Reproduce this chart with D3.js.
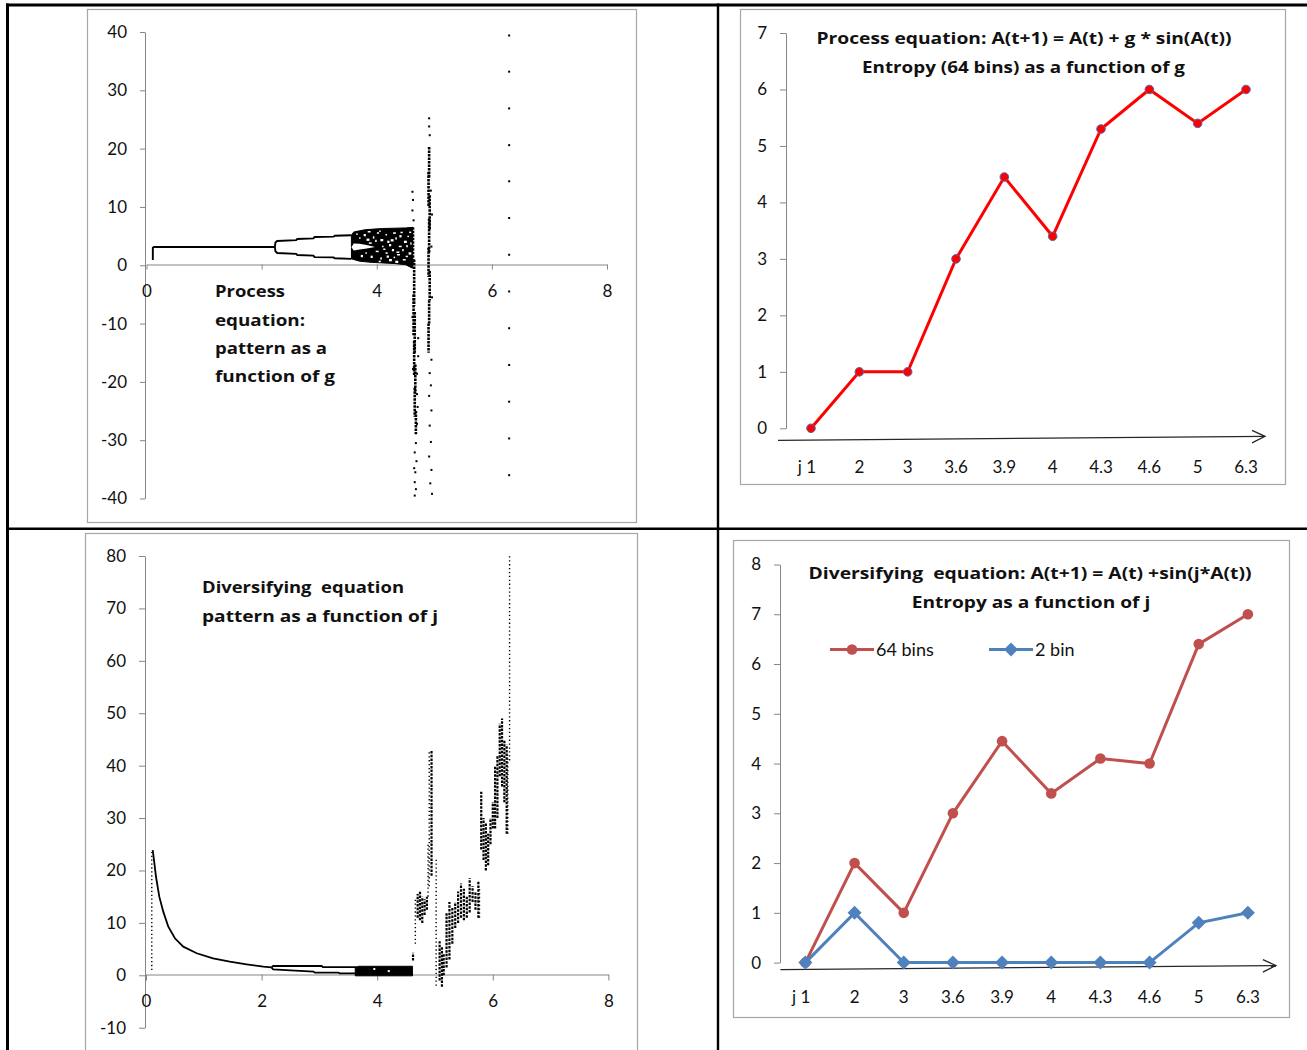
<!DOCTYPE html>
<html><head><meta charset="utf-8">
<script src="https://cdn.jsdelivr.net/npm/d3@7"></script>
<style>
body{margin:0;background:#fff;}
svg{display:block;}
text{font-family:Lato,"Open Sans",sans-serif;}
.bold{font-family:"Open Sans",Lato,sans-serif;font-weight:bold;}
</style></head><body>
<svg id="c" width="1307" height="1050"></svg>
<script>
// ---------- entropy charts (right column) ----------
const paramLabels = ["j 1","2","3","3.6","3.9","4","4.3","4.6","5","6.3"];
const processEntropy64 = [0,1,1,3,4.45,3.4,5.3,6,5.4,6];
const divEntropy64 = [0,2,1,3,4.45,3.4,4.1,4,6.4,7];
const divEntropy2 = [0,1,0,0,0,0,0,0,0.8,1];
const legendNames = ["64 bins","2 bin"];

// ---------- process equation pattern (g, A) ----------
const procTail = [[0.11,0.9],[0.11,3.0],[0.13,3.14],[2.23,3.14]];
const procUpper = [[2.23,3.14],[2.24,3.9],[2.27,4.15],[2.6,4.3],[2.62,4.5],[2.9,4.6],[2.92,4.85],[3.25,4.9],[3.27,5.05],[3.56,5.15]];
const procLower = [[2.23,3.14],[2.24,2.4],[2.27,2.1],[2.6,1.95],[2.62,1.75],[2.9,1.65],[2.92,1.4],[3.25,1.35],[3.27,1.2],[3.56,1.1]];
const procChaos = [[3.56,5.15],[3.6,5.7],[3.7,5.9],[3.8,6.1],[3.95,6.2],[4.1,6.3],[4.3,6.35],[4.5,6.4],[4.62,6.5],
                   [4.62,-0.5],[4.5,0.1],[4.3,0.3],[4.1,0.4],[3.9,0.5],[3.7,0.7],[3.56,1.1]];
const procChaosGap = [[3.56,3.1],[3.6,3.75],[3.7,3.7],[3.8,3.5],[3.9,3.3],[3.97,3.15],[3.9,3.0],[3.8,2.85],[3.7,2.7],[3.6,2.55]];
const procChaosHoles = [[3.71,4.62],[3.79,5.19],[3.88,3.76],[3.95,4.79],[4.02,5.48],[4.08,4.33],[4.17,5.19],[4.23,3.47],[4.30,5.48],[4.34,4.62],
  [4.43,5.58],[4.49,4.04],[4.55,4.9],[4.28,2.62],[4.37,1.76],[4.46,2.62],[4.52,1.47],[4.57,2.05],[3.82,2.05],[3.91,1.47],
  [4.0,2.33],[4.08,1.19],[4.17,2.05],[4.23,0.9],[4.11,3.18],[4.2,4.04],[4.4,3.18],[4.6,3.76],[4.05,0.61],[4.34,0.61],
  [3.66,5.3],[3.74,1.6],[3.86,5.7],[3.99,4.2],[4.13,2.7],[4.26,4.3],[4.31,1.3],[4.41,5.0],[4.47,0.9],[4.53,3.3],
  [4.58,5.6],[3.84,4.4],[4.06,5.8],[4.19,1.5],[4.36,2.2]];
const procDense = [[4.63,6.5,0],[4.65,1,-7],[4.64,-5,-12],[4.66,-8,-15],[4.65,-13,-19],[4.67,-17,-22],[4.66,-21,-26],[4.68,-25,-29],
  [4.91,20.3,15],[4.90,16,10],[4.92,12,6],[4.91,8,2],[4.90,3,-2],[4.92,-1,-6],[4.91,-6,-10],[4.90,-10,-15]];
const procDots = [[4.62,12.6],[4.63,11.2],[4.62,9.4],[4.64,7.7],[4.68,-30.5],[4.66,-32.1],[4.69,-33.6],[4.65,-34.8],[4.67,-35.5],
  [4.66,-37.2],[4.68,-38.4],[4.66,-39.5],[4.70,-22.1],[4.71,-24.3],[4.63,-17.8],[4.70,-18.6],[4.62,-8.9],[4.72,-12.5],
  [4.72,-15.6],[4.70,-27.2],[4.91,25.2],[4.91,23.8],[4.92,22.3],[4.95,-16.2],[4.92,-18.5],[4.94,-20.6],[4.91,-22.4],
  [4.95,-24.9],[4.92,-27.5],[4.94,-30.3],[4.91,-32.8],[4.95,-35.1],[4.93,-37.4],[4.96,-39.2],[4.94,12.8],[4.96,8.7],
  [4.95,3.2],[4.96,-5.5],
  [6.3,39.4],[6.3,33.2],[6.3,26.9],[6.3,20.6],[6.3,14.4],[6.3,8.1],[6.3,1.8],[6.3,-4.5],[6.3,-10.8],[6.3,-17.1],
  [6.3,-23.4],[6.3,-29.7],[6.3,-36.0]];

// ---------- diversifying equation pattern (j, A) ----------
const divCurve = [[0.116,23.9],[0.138,22.0],[0.173,18.8],[0.23,15.0],[0.30,12.1],[0.386,9.27],[0.50,7.06],[0.645,5.46],
  [0.877,4.2],[1.16,3.24],[1.45,2.6],[1.74,2.1],[2.03,1.64],[2.17,1.5]];
const divUpper = [[2.17,1.5],[2.2,1.77],[3.04,1.77],[3.06,1.55],[3.65,1.55]];
const divLower = [[2.17,1.5],[2.2,1.14],[2.5,0.95],[2.9,0.69],[2.92,0.5],[3.33,0.5],[3.35,0.38],[3.65,0.38]];
const divBand = [[3.62,1.45],[3.68,1.72],[4.61,1.72],[4.61,-0.1],[3.62,-0.1]];
const divBandHoles = [[4.2,0.8],[3.95,1.2]];
const divSparse = [[0.1,1,23.5],[4.66,6,14.5],[4.88,15,25],[4.9,17,43],[5.02,-2,22.5],[5.77,11,17],[6.29,41,80],[6.26,27,42]];
const divDense = [[4.62,2.8,4.3],[4.70,11,15.5],[4.74,10.5,16],[4.78,10,15],[4.82,11.5,14.5],[4.86,12.5,15],[4.94,19,43],
  [5.08,-1,6.5],[5.12,-2.2,5.5],[5.15,0,4],[5.2,1.5,12],[5.25,3,14],[5.3,6,13],[5.35,9,14],[5.4,10,16],[5.45,11,17.5],
  [5.5,10.5,16.5],[5.55,11,15],[5.6,12,18.5],[5.65,14,17],[5.7,12.5,16],[5.75,11,18],[5.8,24,35],[5.84,22,30],
  [5.88,20,29],[5.92,21,27],[5.96,25,30],[6.0,28,33],[6.04,28,40],[6.08,30,42],[6.12,38,48],[6.16,36,49],[6.2,33,45],[6.24,27,44]];

const svg = d3.select("#c");
const AXIS = "#868686", FRAME = "#a6a6a6", INK = "#111";

function frame(x0,y0,x1,y1){
  svg.append("rect").attr("x",x0+0.5).attr("y",y0+0.5).attr("width",x1-x0).attr("height",y1-y0)
    .attr("fill","#fff").attr("stroke",FRAME).attr("stroke-width",1.2);
}
function styleAxis(g){
  g.attr("font-family","Lato, 'Open Sans', sans-serif").attr("font-size",17);
  g.select(".domain").attr("stroke",AXIS);
  g.selectAll(".tick line").attr("stroke",AXIS);
  g.selectAll(".tick text").attr("fill",INK);
}
const fmt = d => String(d);
// bold annotation line fitted to a given width
function boldLine(x, y, width, str, anchor){
  svg.append("text").attr("class","bold").attr("x",x).attr("y",y).attr("font-size",16).attr("fill",INK)
    .attr("text-anchor",anchor || "start").attr("textLength",width).attr("lengthAdjust","spacingAndGlyphs")
    .style("white-space","pre").text(str);
}

// ---------- table frame ----------
frame(87,9,636,522);
frame(85,533,637,1070);
frame(740,9,1285,484);
frame(733,540,1289,1017);

// ---------- top-left: process equation pattern ----------
{
  const x = d3.scaleLinear().domain([0,8]).range([146.5,607]);
  const y = d3.scaleLinear().domain([-40,40]).range([498.5,32]);
  svg.append("g").attr("transform","translate(145,0)")
    .call(d3.axisLeft(y).tickValues(d3.range(-40,41,10)).tickFormat(fmt).tickSize(5).tickSizeOuter(0).tickPadding(13))
    .call(styleAxis);
  // the label under the annotation box ("2") is not shown
  svg.append("g").attr("transform",`translate(0,${Math.round(y(0))-0.5})`)
    .call(d3.axisBottom(x).tickValues([0,2,4,6,8]).tickFormat(d => d === 2 ? "" : fmt(d)).tickSize(5).tickSizeOuter(0).tickPadding(15))
    .call(styleAxis);
  const line = d3.line().x(d=>x(d[0])).y(d=>y(d[1]));
  const g = svg.append("g");
  g.append("path").attr("d",line(procChaos)+"Z").attr("fill","#000").attr("stroke","#000").attr("stroke-width",1);
  g.append("path").attr("d",line(procChaosGap)+"Z").attr("fill","#fff");
  g.selectAll(".hole").data(procChaosHoles).join("rect").attr("class","hole")
    .attr("x",d=>x(d[0])-1).attr("y",d=>y(d[1])-1).attr("width",(d,i)=>1.5+(i%3)*0.7).attr("height",(d,i)=>1.5+(i%2)*0.8).attr("fill","#fff");
  [procTail,procUpper,procLower].forEach(p=>
    g.append("path").attr("d",line(p)).attr("fill","none").attr("stroke","#000").attr("stroke-width",1.9));
  g.selectAll(".dense").data(procDense).join("line").attr("class","dense")
    .attr("x1",d=>x(d[0])).attr("x2",d=>x(d[0])).attr("y1",d=>y(d[1])).attr("y2",d=>y(d[2]))
    .attr("stroke","#000").attr("stroke-width",2.6).attr("stroke-dasharray","2.5,1");
  g.selectAll(".dot").data(procDots).join("rect").attr("class","dot")
    .attr("x",d=>x(d[0])-1).attr("y",d=>y(d[1])-1).attr("width",2).attr("height",2).attr("fill","#000");
  boldLine(215, 297, 70, "Process");
  boldLine(215, 326, 90, "equation:");
  boldLine(215, 354, 112, "pattern as a");
  boldLine(215, 382, 120, "function of g");
}

// ---------- bottom-left: diversifying equation pattern ----------
{
  const x = d3.scaleLinear().domain([0,8]).range([146,608.4]);
  const y = d3.scaleLinear().domain([-10,80]).range([1027.7,556]);
  svg.append("g").attr("transform","translate(145,0)")
    .call(d3.axisLeft(y).tickValues(d3.range(-10,81,10)).tickFormat(fmt).tickSize(6).tickSizeOuter(0).tickPadding(13))
    .call(styleAxis);
  svg.append("g").attr("transform",`translate(0,${Math.round(y(0))-0.5})`)
    .call(d3.axisBottom(x).tickValues([0,2,4,6,8]).tickFormat(fmt).tickSize(6).tickSizeOuter(0).tickPadding(14))
    .call(styleAxis);
  const line = d3.line().x(d=>x(d[0])).y(d=>y(d[1]));
  const g = svg.append("g");
  g.append("path").attr("d",line(divBand)+"Z").attr("fill","#000").attr("stroke","#000").attr("stroke-width",1);
  g.selectAll(".hole").data(divBandHoles).join("rect").attr("class","hole")
    .attr("x",d=>x(d[0])-1).attr("y",d=>y(d[1])-1).attr("width",2).attr("height",2).attr("fill","#fff");
  [divCurve,divUpper,divLower].forEach(p=>
    g.append("path").attr("d",line(p)).attr("fill","none").attr("stroke","#000").attr("stroke-width",1.8));
  g.selectAll(".sparse").data(divSparse).join("line").attr("class","sparse")
    .attr("x1",d=>x(d[0])).attr("x2",d=>x(d[0])).attr("y1",d=>y(d[1])).attr("y2",d=>y(d[2]))
    .attr("stroke","#000").attr("stroke-width",1.4).attr("stroke-dasharray","1.3,2.6");
  g.selectAll(".dense").data(divDense).join("line").attr("class","dense")
    .attr("x1",d=>x(d[0])).attr("x2",d=>x(d[0])).attr("y1",d=>y(d[1])).attr("y2",d=>y(d[2]))
    .attr("stroke","#000").attr("stroke-width",2.2).attr("stroke-dasharray","2.5,1.2");
  boldLine(202, 593, 202, "Diversifying  equation");
  boldLine(202, 622, 236, "pattern as a function of j");
}

// ---------- shared pieces for entropy charts ----------
function categoryLabels(x, yBase){
  svg.append("g").attr("font-size",17).attr("fill",INK).selectAll("text").data(paramLabels).join("text")
    .attr("x",d=>d.startsWith("j") ? x(d)+5 : x(d)).attr("y",yBase)
    .attr("text-anchor",d=>d.startsWith("j") ? "end" : "middle").text(d=>d);
}
function arrowAxis(x0,y0,x1,y1){
  const g = svg.append("g").attr("stroke","#262626").attr("stroke-width",1.3).attr("fill","none");
  g.append("line").attr("x1",x0).attr("y1",y0).attr("x2",x1).attr("y2",y1);
  g.append("path").attr("d",`M${x1-13},${y1-6}L${x1},${y1}L${x1-13},${y1+6.5}`);
}

// ---------- top-right: entropy of process equation ----------
{
  const x = d3.scalePoint().domain(paramLabels).range([811,1246]);
  const y = d3.scaleLinear().domain([0,7]).range([428.3,33]);
  svg.append("g").attr("transform","translate(786,0)")
    .call(d3.axisLeft(y).ticks(7).tickFormat(fmt).tickSize(6).tickSizeOuter(0).tickPadding(13))
    .call(styleAxis);
  arrowAxis(x.range()[0]-33, y(0)+12, x.range()[1]+19, y(0)+8);
  categoryLabels(x, 473);
  const pts = paramLabels.map((c,i)=>[x(c), y(processEntropy64[i])]);
  svg.append("path").attr("d",d3.line()(pts)).attr("fill","none").attr("stroke","#ff0000").attr("stroke-width",3);
  svg.append("g").selectAll("circle").data(pts).join("circle")
    .attr("cx",d=>d[0]).attr("cy",d=>d[1]).attr("r",4.3).attr("fill","#ff0000").attr("stroke","#4f6bb0").attr("stroke-width",1);
  boldLine(1024, 44, 415, "Process equation: A(t+1) = A(t) + g * sin(A(t))", "middle");
  boldLine(1023.5, 72.5, 323, "Entropy (64 bins) as a function of g", "middle");
}

// ---------- bottom-right: entropy of diversifying equation ----------
{
  const x = d3.scalePoint().domain(paramLabels).range([805.4,1247.9]);
  const y = d3.scaleLinear().domain([0,8]).range([962.6,564.5]);
  svg.append("g").attr("transform","translate(780,0)")
    .call(d3.axisLeft(y).ticks(8).tickFormat(fmt).tickSize(6).tickSizeOuter(0).tickPadding(13))
    .call(styleAxis);
  arrowAxis(x.range()[0]-25, y(0)+7, x.range()[1]+28, y(0)+3);
  categoryLabels(x, 1003);
  const RED = "#c0504d", BLUE = "#4f81bd";
  const diamond = "M0,-7L7,0L0,7L-7,0Z";
  const red = paramLabels.map((c,i)=>[x(c), y(divEntropy64[i])]);
  const blue = paramLabels.map((c,i)=>[x(c), y(divEntropy2[i])]);
  svg.append("path").attr("d",d3.line()(red)).attr("fill","none").attr("stroke",RED).attr("stroke-width",3);
  svg.append("g").selectAll("circle").data(red).join("circle")
    .attr("cx",d=>d[0]).attr("cy",d=>d[1]).attr("r",5.3).attr("fill",RED);
  svg.append("path").attr("d",d3.line()(blue)).attr("fill","none").attr("stroke",BLUE).attr("stroke-width",3);
  svg.append("g").selectAll("path").data(blue).join("path")
    .attr("transform",d=>`translate(${d[0]},${d[1]})`).attr("d",diamond).attr("fill",BLUE);
  // legend
  const lg = svg.append("g");
  lg.append("line").attr("x1",830).attr("x2",874).attr("y1",649.5).attr("y2",649.5).attr("stroke",RED).attr("stroke-width",3);
  lg.append("circle").attr("cx",852).attr("cy",649.5).attr("r",5.3).attr("fill",RED);
  lg.append("text").attr("x",876).attr("y",656).attr("font-size",18).attr("fill",INK).text(legendNames[0]);
  lg.append("line").attr("x1",989).attr("x2",1033).attr("y1",649.5).attr("y2",649.5).attr("stroke",BLUE).attr("stroke-width",3);
  lg.append("path").attr("transform","translate(1011,649.5)").attr("d",diamond).attr("fill",BLUE);
  lg.append("text").attr("x",1035).attr("y",656).attr("font-size",18).attr("fill",INK).text(legendNames[1]);
  boldLine(1030, 579, 443, "Diversifying  equation: A(t+1) = A(t) +sin(j*A(t))", "middle");
  boldLine(1031, 608, 238.5, "Entropy as a function of j", "middle");
}

// ---------- table rules ----------
{
  const g = svg.append("g").attr("stroke","#000");
  g.append("line").attr("x1",6).attr("x2",1307).attr("y1",5).attr("y2",5).attr("stroke-width",3);
  g.append("line").attr("x1",7.5).attr("x2",7.5).attr("y1",3.5).attr("y2",1050).attr("stroke-width",3);
  g.append("line").attr("x1",6).attr("x2",1307).attr("y1",528.8).attr("y2",528.8).attr("stroke-width",2.6);
  g.append("line").attr("x1",718).attr("x2",718).attr("y1",3.5).attr("y2",1050).attr("stroke-width",2.4);
}
</script>
</body></html>
